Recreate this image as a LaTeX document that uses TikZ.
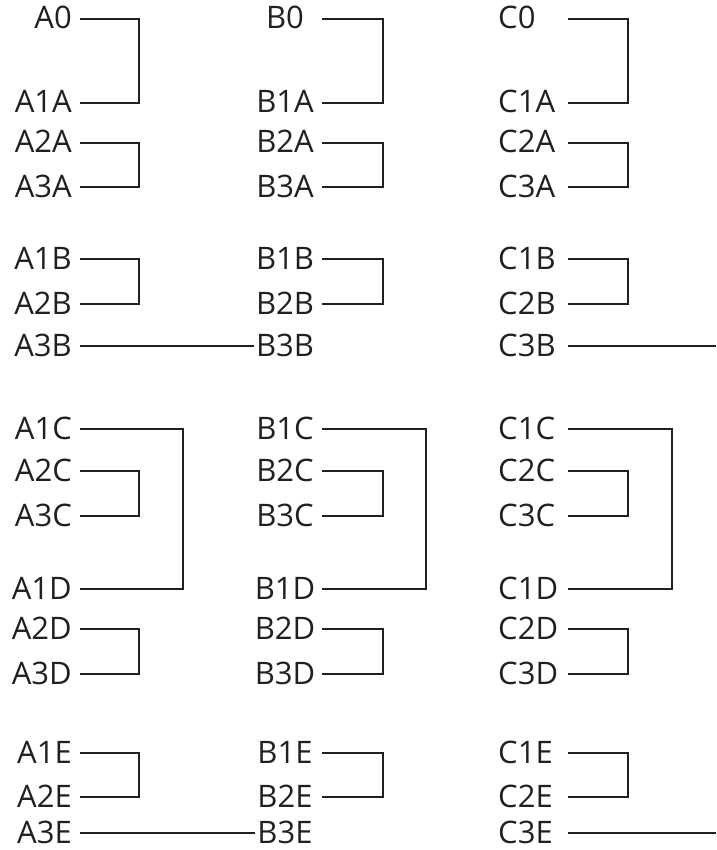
\documentclass[tikz,border=0pt]{standalone}
\usepackage{fontspec}
\setmainfont{Open Sans}
\definecolor{ink}{HTML}{231F20}
\newcommand\brk[3]{\draw[wire] (#1) -- (#1 -| #3) -- (#2 -| #3) -- (#2);}
\begin{document}
\begin{tikzpicture}[x=1pt,y=-1pt,
  lab/.style={inner sep=0pt, text=ink, font=\fontsize{31}{31}\selectfont},
  wire/.style={draw=ink, line width=1.9pt}]
\useasboundingbox (0,0) rectangle (716,850);
\foreach \r/\y in {0/19,1A/103,2A/143,3A/187,1B/259,2B/304,3B/346,1C/429,2C/471,3C/516,1D/589,2D/629,3D/674,1E/753,2E/797,3E/833}{
  \node[lab, anchor=base east] (A\r) at (72,\y+10) {A\r};
  \node[lab, anchor=base] (B\r) at (285,\y+10) {B\r};
  \node[lab, anchor=base west] (C\r) at (498,\y+10) {C\r};
  \coordinate (a\r) at (80,\y);
  \coordinate (b\r) at (322,\y);
  \coordinate (c\r) at (568,\y);
}
\coordinate (vA) at (139,0);
\coordinate (VA) at (183,0);
\coordinate (vB) at (383,0);
\coordinate (VB) at (426,0);
\coordinate (vC) at (628,0);
\coordinate (VC) at (672,0);
\coordinate (edge) at (716,0);
% column A
\brk{a0}{a1A}{vA}
\brk{a2A}{a3A}{vA}
\brk{a1B}{a2B}{vA}
\brk{a1C}{a1D}{VA}
\brk{a2C}{a3C}{vA}
\brk{a2D}{a3D}{vA}
\brk{a1E}{a2E}{vA}
% column B
\brk{b0}{b1A}{vB}
\brk{b2A}{b3A}{vB}
\brk{b1B}{b2B}{vB}
\brk{b1C}{b1D}{VB}
\brk{b2C}{b3C}{vB}
\brk{b2D}{b3D}{vB}
\brk{b1E}{b2E}{vB}
% column C
\brk{c0}{c1A}{vC}
\brk{c2A}{c3A}{vC}
\brk{c1B}{c2B}{vC}
\brk{c1C}{c1D}{VC}
\brk{c2C}{c3C}{vC}
\brk{c2D}{c3D}{vC}
\brk{c1E}{c2E}{vC}
% straight connectors
\draw[wire, shorten >=2pt] (a3B) -- (a3B -| B3B.west);
\draw[wire, shorten >=2pt] (a3E) -- (a3E -| B3E.west);
\draw[wire] (c3B) -- (c3B -| edge);
\draw[wire] (c3E) -- (c3E -| edge);
\end{tikzpicture}
\end{document}
